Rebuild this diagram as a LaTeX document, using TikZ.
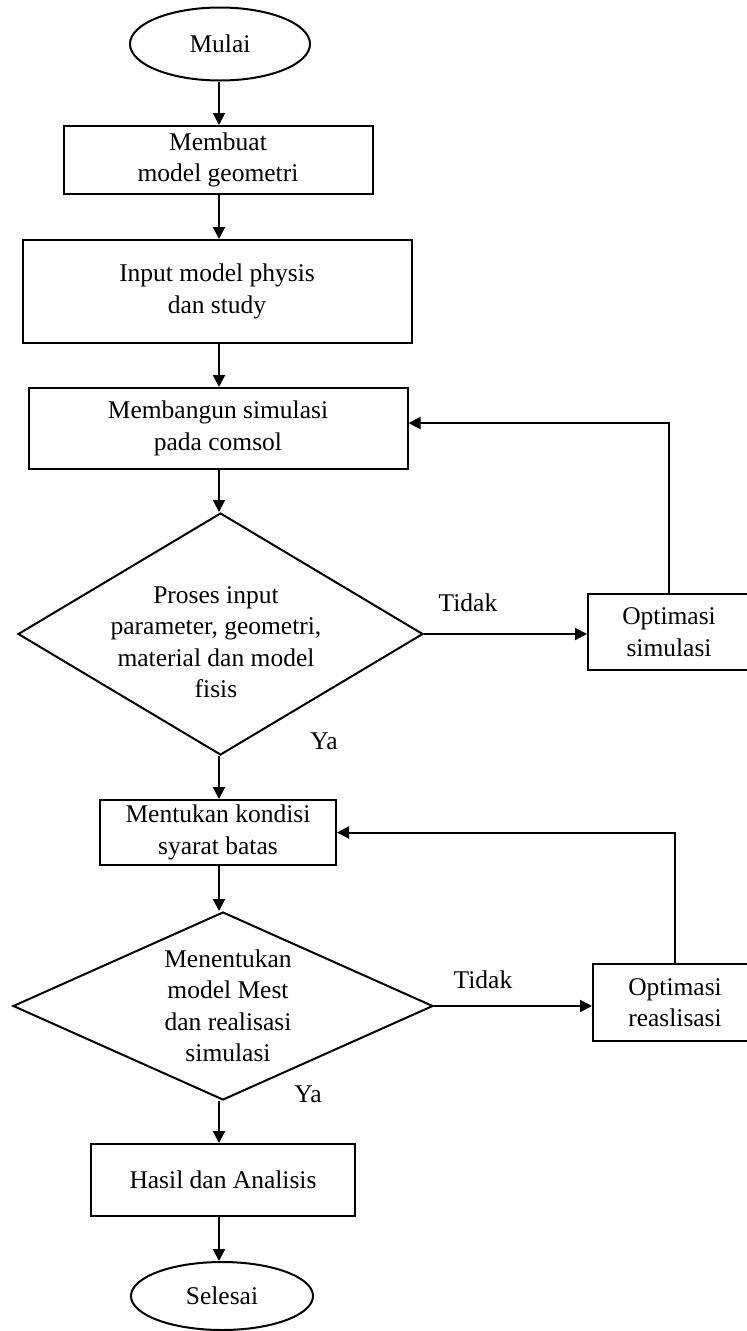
\documentclass[tikz,border=0pt]{standalone}
\usepackage{fontspec}
\setmainfont{Liberation Serif}
\usetikzlibrary{shapes.geometric,arrows.meta}
\begin{document}
\begin{tikzpicture}[x=1pt,y=-1pt,
  every node/.style={font=\fontsize{25.5}{31.5}\selectfont, inner sep=0pt},
  procbox/.style={draw, line width=2pt, rectangle, align=center},
  term/.style={draw, line width=2pt, ellipse, align=center},
  decision/.style={draw, line width=2pt, diamond},
  dtext/.style={align=center},
  arr/.style={line width=2pt, -{Triangle[length=12pt,width=12pt]}},
  link/.style={line width=2pt}]
\useasboundingbox (0,0) rectangle (747,1331);
\coordinate (col) at (219,0);

% main column
\node[term, minimum width=180pt, minimum height=73pt] (start) at (220,44) {Mulai};
\node[procbox, minimum width=309pt, minimum height=68pt] (geo) at (218,160) {Membuat\\model geometri};
\node[procbox, minimum width=389pt, minimum height=103pt] (phys) at (217,291.5) {Input model physis\\dan study};
\node[procbox, minimum width=379pt, minimum height=81pt] (sim) at (218,428.5) {Membangun simulasi\\pada comsol};
\node[decision, minimum width=405pt, minimum height=242pt] (dec1) at (220.5,634) {};
\node[dtext] (dec1t) at (216,642) {Proses input\\parameter, geometri,\\material dan model\\fisis};
\node[procbox, minimum width=236pt, minimum height=65pt] (bound) at (218,832.5) {Mentukan kondisi\\syarat batas};
\node[decision, minimum width=420pt, minimum height=188pt] (dec2) at (223,1006) {};
\node[dtext] (dec2t) at (228,1006) {Menentukan\\model Mest\\dan realisasi\\simulasi};
\node[procbox, minimum width=264pt, minimum height=72pt] (res) at (223,1180) {Hasil dan Analisis};
\node[term, minimum width=182pt, minimum height=68pt] (stop) at (222,1296) {Selesai};

% loop-back boxes
\node[procbox, minimum width=162pt, minimum height=76pt] (optA) at (669,632) {Optimasi\\simulasi};
\node[procbox, minimum width=164pt, minimum height=77pt] (optB) at (675,1002.5) {Optimasi\\reaslisasi};

% branch labels
\node (noA) at (468,603) {Tidak};
\node (noB) at (483,980) {Tidak};
\node (yesA) at (324,741) {Ya};
\node (yesB) at (308,1094) {Ya};

% main flow
\draw[arr] (start.south -| col) -- (geo.north -| col);
\draw[arr] (geo.south -| col) -- (phys.north -| col);
\draw[arr] (phys.south -| col) -- (sim.north -| col);
\draw[arr] (sim.south -| col) -- (dec1.north -| col);
\draw[arr] (dec1.south -| col) -- (bound.north -| col);
\draw[arr] (bound.south -| col) -- (dec2.north -| col);
\draw[arr] (dec2.south -| col) -- (res.north -| col);
\draw[arr] (res.south -| col) -- (stop.north -| col);

% rejection branches and feedback
\draw[arr] (dec1.east) -- (dec1.east -| optA.west);
\draw[arr] (optA.north) |- ([yshift=5.5pt]sim.east);
\draw[arr] (dec2.east) -- (dec2.east -| optB.west);
\draw[arr] (optB.north) |- (bound.east);
\end{tikzpicture}
\end{document}
